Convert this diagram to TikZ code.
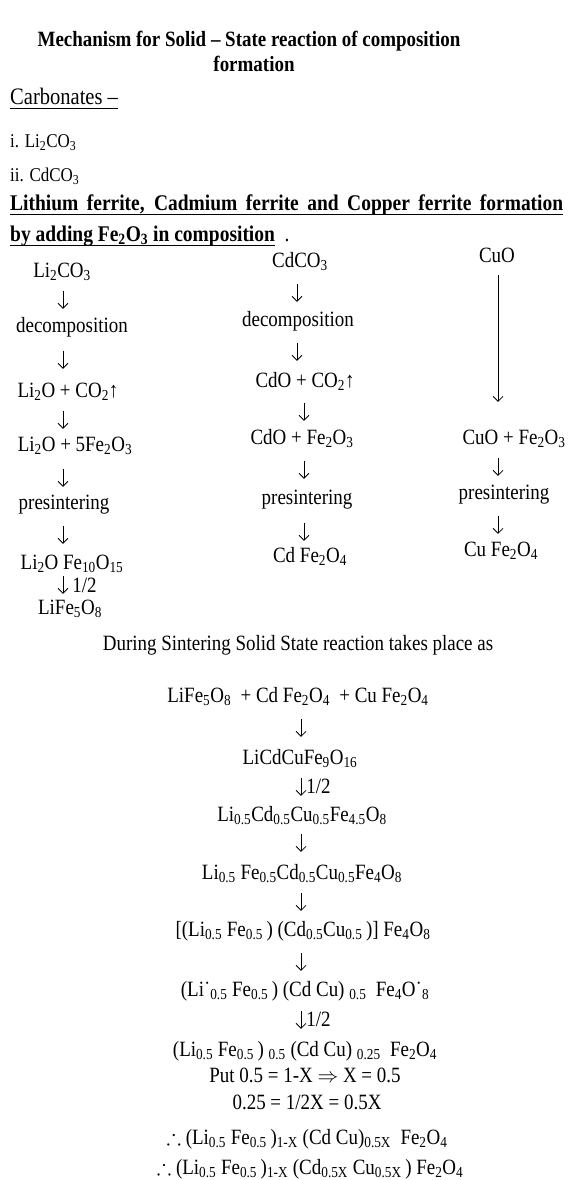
\documentclass[tikz,border=0pt]{standalone}
\usepackage{fontspec}
\usepackage{amssymb}
\setmainfont{Liberation Serif}[FakeStretch=0.87]
\usetikzlibrary{arrows.meta}
\newcommand{\sbs}[1]{\textsubscript{#1}}
\newcommand{\dt}{˙}
\begin{document}
\begin{tikzpicture}[x=1pt,y=-1pt,
  every node/.style={inner sep=0pt,text height=13pt,text depth=4pt},
  t/.style={font=\fontsize{21.8}{25}\selectfont},
  ttl/.style={font=\bfseries\fontsize{21.8}{25}\selectfont},
  hd/.style={font=\bfseries\fontsize{22.4}{25}\selectfont,anchor=west},
  sm/.style={font=\fontsize{19.5}{22}\selectfont,anchor=west},
  uline/.style={line width=1.1pt},
  arr/.style 2 args={-{Straight Barb[length=5pt,width=10pt]},line width=0.75pt,shorten <=#1,shorten >=#2},
  lab/.style={font=\fontsize{21.8}{25}\selectfont,anchor=west}]
\useasboundingbox[fill=white] (0,0) rectangle (576,1180);
% title and headings
\node[ttl] (tt1) at (249,42) {Mechanism for Solid -- State reaction of composition};
\node[ttl] (tt2) at (254,67) {formation};
\node[font=\fontsize{23.6}{27}\selectfont,anchor=west] (carb) at (10,100) {Carbonates --};
\draw[uline] (carb.south west) -- (carb.south east);
\node[sm] (ca1) at (10,143) {i. Li\sbs{2}CO\sbs{3}};
\node[sm] (ca2) at (10,177) {ii. CdCO\sbs{3}};
\node[hd] (h1) at (10,206) {\makebox[553pt][s]{Lithium ferrite, Cadmium ferrite and Copper ferrite formation}};
\draw[uline] (h1.south west) -- (h1.south east);
\node[hd] (h2) at (10,237) {by adding Fe\sbs{2}O\sbs{3} in composition\rlap{\mdseries\ \ .}};
\draw[uline] (h2.south west) -- (h2.south east);
% arrow columns
\coordinate (x1) at (63,0);
\coordinate (x2a) at (297,0);
\coordinate (x2b) at (304,0);
\coordinate (x3) at (498,0);
\coordinate (x4) at (301,0);
% column 1: lithium
\node[t] (l1) at (62,273) {Li\sbs{2}CO\sbs{3}};
\node[t] (l2) at (72,328) {decomposition};
\node[t] (l3) at (68,393) {Li\sbs{2}O + CO\sbs{2}↑};
\node[t] (l4) at (75,447) {Li\sbs{2}O + 5Fe\sbs{2}O\sbs{3}};
\node[t] (l5) at (64,505) {presintering};
\node[t] (l6) at (72,565) {Li\sbs{2}O Fe\sbs{10}O\sbs{15}};
\node[t] (l7) at (70,610) {LiFe\sbs{5}O\sbs{8}};
\draw[arr={9.5pt}{10.5pt}] (l1.south -| x1) -- (l2.north -| x1);
\draw[arr={14.5pt}{15.5pt}] (l2.south -| x1) -- (l3.north -| x1);
\draw[arr={9.5pt}{9.5pt}] (l3.south -| x1) -- (l4.north -| x1);
\draw[arr={13.5pt}{9.5pt}] (l4.south -| x1) -- (l5.north -| x1);
\draw[arr={12.5pt}{12.5pt}] (l5.south -| x1) -- (l6.north -| x1);
\draw[arr={2.5pt}{7.5pt}] (l6.south -| x1) -- node[lab,xshift=9pt] {1/2} (l7.north -| x1);
% column 2: cadmium
\node[t] (c1) at (300,263) {CdCO\sbs{3}};
\node[t] (c2) at (298,322) {decomposition};
\node[t] (c3) at (305,383) {CdO + CO\sbs{2}↑};
\node[t] (c4) at (302,440) {CdO + Fe\sbs{2}O\sbs{3}};
\node[t] (c5) at (307,500) {presintering};
\node[t] (c6) at (310,558) {Cd Fe\sbs{2}O\sbs{4}};
\draw[arr={12.5pt}{11.5pt}] (c1.south -| x2a) -- (c2.north -| x2a);
\draw[arr={12.5pt}{13.5pt}] (c2.south -| x2a) -- (c3.north -| x2a);
\draw[arr={11.5pt}{10.5pt}] (c3.south -| x2b) -- (c4.north -| x2b);
\draw[arr={12.5pt}{12.5pt}] (c4.south -| x2b) -- (c5.north -| x2b);
\draw[arr={14.5pt}{8.5pt}] (c5.south -| x2b) -- (c6.north -| x2b);
% column 3: copper
\node[t] (u1) at (497,258) {CuO};
\node[t] (u2) at (514,440) {CuO + Fe\sbs{2}O\sbs{3}};
\node[t] (u3) at (504,495) {presintering};
\node[t] (u4) at (501,552) {Cu Fe\sbs{2}O\sbs{4}};
\draw[arr={8.5pt}{29.5pt}] (u1.south -| x3) -- (u2.north -| x3);
\draw[arr={9.5pt}{10.5pt}] (u2.south -| x3) -- (u3.north -| x3);
\draw[arr={12.5pt}{9.5pt}] (u3.south -| x3) -- (u4.north -| x3);
% sintering
\node[t] (ds) at (298,646) {During Sintering Solid State reaction takes place as};
\node[t] (b1) at (298,698) {LiFe\sbs{5}O\sbs{8} \ + Cd Fe\sbs{2}O\sbs{4} \ + Cu Fe\sbs{2}O\sbs{4}};
\node[t] (b2) at (300,760) {LiCdCuFe\sbs{9}O\sbs{16}};
\node[t] (b3) at (302,817) {Li\sbs{0.5}Cd\sbs{0.5}Cu\sbs{0.5}Fe\sbs{4.5}O\sbs{8}};
\node[t] (b4) at (302,875) {Li\sbs{0.5} Fe\sbs{0.5}Cd\sbs{0.5}Cu\sbs{0.5}Fe\sbs{4}O\sbs{8}};
\node[t] (b5) at (303,932) {[(Li\sbs{0.5} Fe\sbs{0.5}\,) (Cd\sbs{0.5}Cu\sbs{0.5}\,)] Fe\sbs{4}O\sbs{8}};
\node[t] (b6) at (305,992) {(Li\dt\sbs{0.5} Fe\sbs{0.5}\,) (Cd Cu) \sbs{0.5} \ Fe\sbs{4}O\dt\sbs{8}};
\node[t] (b7) at (305,1052) {(Li\sbs{0.5} Fe\sbs{0.5}\,) \sbs{0.5} (Cd Cu) \sbs{0.25} \ Fe\sbs{2}O\sbs{4}};
\node[t] (b8) at (305,1078) {Put 0.5 = 1-X $\Rightarrow$ X = 0.5};
\node[t] (b9) at (307,1105) {0.25 = 1/2X = 0.5X};
\node[t] (b10) at (307,1140) {$\therefore$ (Li\sbs{0.5} Fe\sbs{0.5}\,)\sbs{1-X} (Cd Cu)\sbs{0.5X} \ Fe\sbs{2}O\sbs{4}};
\node[t] (b11) at (310,1170) {$\therefore$ (Li\sbs{0.5} Fe\sbs{0.5}\,)\sbs{1-X} (Cd\sbs{0.5X} Cu\sbs{0.5X}\,) Fe\sbs{2}O\sbs{4}};
\draw[arr={12.5pt}{14.5pt}] (b1.south -| x4) -- (b2.north -| x4);
\draw[arr={9.5pt}{12.5pt}] (b2.south -| x4) -- node[lab,xshift=5pt] {1/2} (b3.north -| x4);
\draw[arr={8.5pt}{14.5pt}] (b3.south -| x4) -- (b4.north -| x4);
\draw[arr={9.5pt}{12.5pt}] (b4.south -| x4) -- (b5.north -| x4);
\draw[arr={12.5pt}{12.5pt}] (b5.south -| x4) -- (b6.north -| x4);
\draw[arr={10.5pt}{14.5pt}] (b6.south -| x4) -- node[lab,xshift=5pt] {1/2} (b7.north -| x4);
\end{tikzpicture}
\end{document}
